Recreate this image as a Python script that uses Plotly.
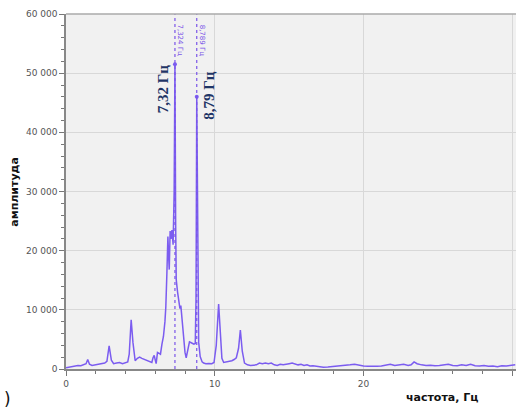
import plotly.graph_objects as go

freq_hz = [0.0, 0.2, 0.4, 0.6, 0.8, 1.0, 1.2, 1.35, 1.46, 1.58, 1.75, 2.0, 2.2, 2.4, 2.6, 2.75, 2.9, 3.05, 3.2, 3.4,
           3.6, 3.8, 4.0, 4.15, 4.25, 4.38, 4.5, 4.65, 4.8, 4.95, 5.1, 5.3, 5.5, 5.65, 5.77, 5.85, 5.93, 6.0, 6.06, 6.15,
           6.25, 6.35, 6.45, 6.55, 6.65, 6.71, 6.78, 6.85, 6.9, 6.94, 7.0, 7.06, 7.12, 7.2, 7.27, 7.324, 7.37, 7.41, 7.5, 7.6,
           7.66, 7.72, 7.8, 7.9, 8.0, 8.08, 8.18, 8.3, 8.45, 8.6, 8.69, 8.74, 8.789, 8.84, 8.92, 9.02, 9.15, 9.25, 9.4, 9.6,
           9.8, 9.95, 10.1, 10.26, 10.38, 10.48, 10.6, 10.8, 11.0, 11.15, 11.3, 11.45, 11.6, 11.72, 11.85, 12.0, 12.2, 12.4, 12.6, 12.8,
           13.0, 13.2, 13.4, 13.6, 13.8, 14.0, 14.2, 14.4, 14.6, 14.8, 15.0, 15.2, 15.4, 15.6, 15.8, 16.0, 16.2, 16.4, 16.6, 16.8,
           17.0, 17.3, 17.6, 17.9, 18.2, 18.5, 18.8, 19.1, 19.4, 19.7, 20.0, 20.3, 20.6, 20.9, 21.2, 21.5, 21.8, 22.1, 22.4, 22.7,
           23.0, 23.2, 23.4, 23.6, 23.9, 24.2, 24.5, 24.8, 25.1, 25.4, 25.7, 26.0, 26.3, 26.6, 26.9, 27.2, 27.5, 27.8, 28.1, 28.4,
           28.7, 29.0, 29.3, 29.6, 29.9, 30.2]
amplitude = [200, 300, 350, 500, 600, 550, 700, 900, 1600, 800, 600, 700, 800, 900, 1000, 1300, 3900, 1500, 900, 1000,
             1100, 900, 1100, 1200, 2500, 8300, 4500, 1400, 1800, 2000, 1800, 1600, 1500, 1300, 1100, 1900, 2300, 1500, 900, 2800,
             2600, 2500, 4200, 5500, 8000, 10500, 16000, 22400, 19000, 16800, 23300, 22000, 23500, 21000, 30000, 51500, 25000, 15100, 13000, 11200,
             10200, 10700, 8000, 5000, 2800, 1900, 3000, 4600, 4400, 4200, 4300, 12000, 46000, 20000, 4500, 2100, 1200, 1000, 900, 950,
             900, 1100, 4000, 11000, 5000, 1800, 1100, 1200, 1300, 1400, 1600, 1900, 3500, 6600, 3000, 1000, 700, 600, 650, 700,
             1000, 900, 1000, 900, 1000, 700, 600, 800, 700, 750, 900, 1000, 800, 700, 800, 600, 700, 500, 550, 450,
             400, 300, 350, 400, 450, 500, 600, 700, 800, 600, 500, 450, 400, 450, 500, 650, 800, 600, 700, 800,
             600, 700, 1200, 900, 700, 600, 650, 550, 600, 700, 800, 600, 550, 700, 600, 800, 550, 500, 600, 450,
             500, 400, 550, 500, 600, 700]

peak_freqs = [7.324, 8.789]
peak_amps = [51500, 46000]
peak_big_labels = ["7,32 Гц", "8,79 Гц"]
peak_small_labels = ["7,324 Гц", "8,789 Гц"]

x_tick_vals = [0, 10, 20, 30]
y_tick_vals = [0, 10000, 20000, 30000, 40000, 50000, 60000]

line_color = "#7b5cf0"

fig = go.Figure()
fig.add_trace(go.Scatter(x=freq_hz, y=amplitude, mode="lines",
                         line=dict(color=line_color, width=1.5), showlegend=False))
fig.add_trace(go.Scatter(x=peak_freqs, y=peak_amps, mode="markers",
                         marker=dict(color=line_color, size=4), showlegend=False))

for f in peak_freqs:
    fig.add_shape(type="line", xref="x", yref="paper", x0=f, x1=f, y0=0, y1=1,
                  line=dict(color="#7a55e8", width=1.2, dash="dot"))

big_offsets = [-0.8, 0.8]
big_y = [47300, 46300]
for f, lab, dx, yy in zip(peak_freqs, peak_big_labels, big_offsets, big_y):
    fig.add_annotation(x=f + dx, y=yy, xref="x", yref="y", text="<b>" + lab + "</b>",
                       textangle=-90, showarrow=False,
                       font=dict(family="Liberation Serif, Times New Roman, serif", size=15, color="#1f3566"))

for f, lab in zip(peak_freqs, peak_small_labels):
    fig.add_annotation(x=f + 0.35, y=55500, xref="x", yref="y", text=lab,
                       textangle=90, showarrow=False,
                       font=dict(family="DejaVu Sans, sans-serif", size=7, color="#7a55e8"))

fig.add_annotation(x=-0.115, y=0.5, xref="paper", yref="paper", text="<b>амплитуда</b>",
                   textangle=-90, showarrow=False, xanchor="center", yanchor="middle",
                   font=dict(family="DejaVu Sans, sans-serif", size=11, color="#111111"))

fig.add_annotation(x=0.835, y=-0.08, xref="paper", yref="paper", text="<b>частота, Гц</b>",
                   showarrow=False, xanchor="center", yanchor="middle",
                   font=dict(family="DejaVu Sans, sans-serif", size=11, color="#111111"))

fig.add_annotation(x=-0.142, y=-0.085, xref="paper", yref="paper", text=")",
                   showarrow=False, xanchor="left", yanchor="middle",
                   font=dict(family="DejaVu Sans, sans-serif", size=17, color="#111111"))

fig.update_layout(
    width=518, height=410,
    margin=dict(l=66, r=2, t=14, b=41),
    paper_bgcolor="white",
    plot_bgcolor="#f1f1f1",
    separators=", ",
    font=dict(family="DejaVu Sans, sans-serif", size=9, color="#555555"),
    xaxis=dict(range=[0, 30.25], tickvals=x_tick_vals, ticks="outside", ticklen=5,
               tickcolor="#777777", showline=True, linecolor="#888888", linewidth=1.5,
               mirror=False, showgrid=True, gridcolor="#d8d8d8", zeroline=False,
               minor=dict(dtick=2, ticks="outside", ticklen=3, tickcolor="#777777", showgrid=False)),
    yaxis=dict(range=[0, 60000], tickvals=y_tick_vals, tickformat=",d", ticks="outside", ticklen=5,
               tickcolor="#777777", showline=True, linecolor="#888888", linewidth=1.5,
               showgrid=True, gridcolor="#d8d8d8", zeroline=False,
               minor=dict(dtick=2000, ticks="outside", ticklen=3, tickcolor="#777777", showgrid=False)),
)
fig.add_shape(type="line", xref="paper", yref="paper", x0=0, x1=1, y0=1, y1=1,
              line=dict(color="#aaaaaa", width=1.5))

fig.write_html("out.html", config={"displayModeBar": False})

# remove the browser's default body margin so the figure sits at the page origin
with open("out.html", "r", encoding="utf-8") as fh:
    html = fh.read()
html = html.replace("<head>", "<head><style>html,body{margin:0;padding:0;overflow:hidden;}</style>", 1)
with open("out.html", "w", encoding="utf-8") as fh:
    fh.write(html)
